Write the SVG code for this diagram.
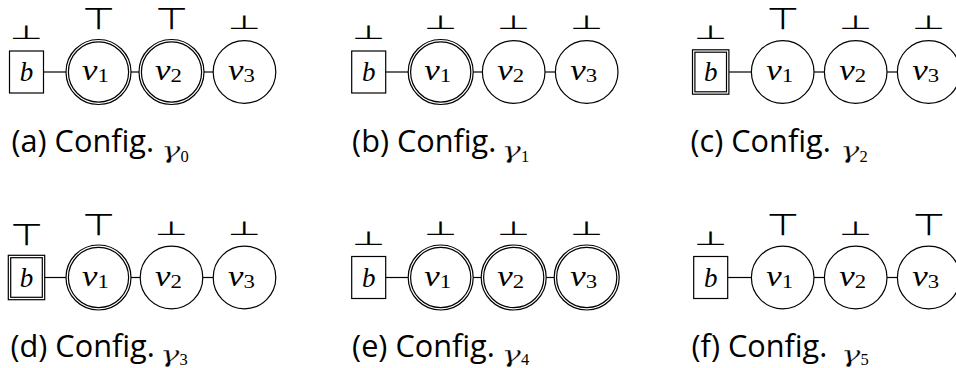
<svg xmlns="http://www.w3.org/2000/svg" width="956" height="368" viewBox="0 0 956 368">
<style>
.ln{stroke:#000;stroke-width:1.2;fill:none}
.nd{fill:#fff;stroke:#000;stroke-width:1.2}
.tk{font-family:"DejaVu Sans",sans-serif;font-size:38px;text-anchor:middle;fill:#000}
.nl{font-family:"Liberation Serif",serif;font-style:italic;font-size:29px;text-anchor:middle;fill:#000}
.bl{font-family:"Liberation Serif",serif;font-style:italic;font-size:27px;text-anchor:middle;fill:#000}
.sub{font-style:normal;font-size:19px}
.cap{font-family:"Open Sans",sans-serif;font-size:30.7px;fill:#000}
.gm{font-family:"DejaVu Serif",serif;font-style:italic;font-size:26px;fill:#000;stroke:#fff;stroke-width:0.35}
.gs{font-family:"Liberation Serif",serif;font-size:16.5px;fill:#000}
</style>
<rect width="956" height="368" fill="#fff"/>

<!-- Panel a -->
<g id="panel-a" transform="translate(9.5,72)">
  <g id="a-edges">
    <line class="ln" x1="34" y1="0" x2="56.5" y2="0"/>
    <line class="ln" x1="121.5" y1="0" x2="129.5" y2="0"/>
    <line class="ln" x1="194.5" y1="0" x2="203.7" y2="0"/>
  </g>
  <g id="a-b">
    <rect class="nd" x="0" y="-21" width="34" height="42"/>
    <text class="bl" x="17" y="9">b</text>
    <text class="tk" transform="translate(17,-33) scale(1,0.51)">⊥</text>
  </g>
  <g id="a-v1">
    <circle class="nd" cx="89" cy="0" r="32.5"/><circle class="nd" cx="89" cy="0" r="30.1"/>
    <text class="nl" transform="translate(86,8) scale(1.2,1)">v<tspan class="sub" dy="2">1</tspan></text>
    <text class="tk" transform="translate(89,-43) scale(1,0.8)">⊤</text>
  </g>
  <g id="a-v2">
    <circle class="nd" cx="162" cy="0" r="32.5"/><circle class="nd" cx="162" cy="0" r="30.1"/>
    <text class="nl" transform="translate(159,8) scale(1.2,1)">v<tspan class="sub" dy="2">2</tspan></text>
    <text class="tk" transform="translate(162,-43) scale(1,0.8)">⊤</text>
  </g>
  <g id="a-v3">
    <circle class="nd" cx="235" cy="0" r="31.3"/>
    <text class="nl" transform="translate(232,8) scale(1.2,1)">v<tspan class="sub" dy="2">3</tspan></text>
    <text class="tk" transform="translate(235,-43) scale(1,0.51)">⊥</text>
  </g>
  <g id="a-caption">
    <text class="cap" x="2" y="80">(a) Config.</text>
    <text class="gm" transform="translate(151.5,86) scale(1.25,0.85)">γ</text>
    <text class="gs" x="171" y="90.3">0</text>
  </g>
</g>

<!-- Panel b -->
<g id="panel-b" transform="translate(351.7,72)">
  <g id="b-edges">
    <line class="ln" x1="34" y1="0" x2="56.5" y2="0"/>
    <line class="ln" x1="121.5" y1="0" x2="130.7" y2="0"/>
    <line class="ln" x1="193.3" y1="0" x2="203.7" y2="0"/>
  </g>
  <g id="b-b">
    <rect class="nd" x="0" y="-21" width="34" height="42"/>
    <text class="bl" x="17" y="9">b</text>
    <text class="tk" transform="translate(17,-33) scale(1,0.51)">⊥</text>
  </g>
  <g id="b-v1">
    <circle class="nd" cx="89" cy="0" r="32.5"/><circle class="nd" cx="89" cy="0" r="30.1"/>
    <text class="nl" transform="translate(86,8) scale(1.2,1)">v<tspan class="sub" dy="2">1</tspan></text>
    <text class="tk" transform="translate(89,-43) scale(1,0.51)">⊥</text>
  </g>
  <g id="b-v2">
    <circle class="nd" cx="162" cy="0" r="31.3"/>
    <text class="nl" transform="translate(159,8) scale(1.2,1)">v<tspan class="sub" dy="2">2</tspan></text>
    <text class="tk" transform="translate(162,-43) scale(1,0.51)">⊥</text>
  </g>
  <g id="b-v3">
    <circle class="nd" cx="235" cy="0" r="31.3"/>
    <text class="nl" transform="translate(232,8) scale(1.2,1)">v<tspan class="sub" dy="2">3</tspan></text>
    <text class="tk" transform="translate(235,-43) scale(1,0.51)">⊥</text>
  </g>
  <g id="b-caption">
    <text class="cap" x="0.4" y="80">(b) Config.</text>
    <text class="gm" transform="translate(149.9,86) scale(1.25,0.85)">γ</text>
    <text class="gs" x="169.4" y="90.3">1</text>
  </g>
</g>

<!-- Panel c -->
<g id="panel-c" transform="translate(693.7,72)">
  <g id="c-edges">
    <line class="ln" x1="35.2" y1="0" x2="57.7" y2="0"/>
    <line class="ln" x1="120.3" y1="0" x2="130.7" y2="0"/>
    <line class="ln" x1="193.3" y1="0" x2="203.7" y2="0"/>
  </g>
  <g id="c-b">
    <rect class="nd" x="-1.2" y="-22.2" width="36.4" height="44.4"/>
    <rect class="nd" x="1.2" y="-19.8" width="31.6" height="39.6"/>
    <text class="bl" x="17" y="9">b</text>
    <text class="tk" transform="translate(17,-33) scale(1,0.51)">⊥</text>
  </g>
  <g id="c-v1">
    <circle class="nd" cx="89" cy="0" r="31.3"/>
    <text class="nl" transform="translate(86,8) scale(1.2,1)">v<tspan class="sub" dy="2">1</tspan></text>
    <text class="tk" transform="translate(89,-43) scale(1,0.8)">⊤</text>
  </g>
  <g id="c-v2">
    <circle class="nd" cx="162" cy="0" r="31.3"/>
    <text class="nl" transform="translate(159,8) scale(1.2,1)">v<tspan class="sub" dy="2">2</tspan></text>
    <text class="tk" transform="translate(162,-43) scale(1,0.51)">⊥</text>
  </g>
  <g id="c-v3">
    <circle class="nd" cx="235" cy="0" r="31.3"/>
    <text class="nl" transform="translate(232,8) scale(1.2,1)">v<tspan class="sub" dy="2">3</tspan></text>
    <text class="tk" transform="translate(235,-43) scale(1,0.51)">⊥</text>
  </g>
  <g id="c-caption">
    <text class="cap" x="-3.2" y="80">(c) Config.</text>
    <text class="gm" transform="translate(146.3,86) scale(1.25,0.85)">γ</text>
    <text class="gs" x="165.8" y="90.3">2</text>
  </g>
</g>

<!-- Panel d -->
<g id="panel-d" transform="translate(9.5,277.5)">
  <g id="d-edges">
    <line class="ln" x1="35.2" y1="0" x2="56.5" y2="0"/>
    <line class="ln" x1="121.5" y1="0" x2="130.7" y2="0"/>
    <line class="ln" x1="193.3" y1="0" x2="203.7" y2="0"/>
  </g>
  <g id="d-b">
    <rect class="nd" x="-1.2" y="-22.2" width="36.4" height="44.4"/>
    <rect class="nd" x="1.2" y="-19.8" width="31.6" height="39.6"/>
    <text class="bl" x="17" y="9">b</text>
    <text class="tk" transform="translate(17,-33) scale(1,0.8)">⊤</text>
  </g>
  <g id="d-v1">
    <circle class="nd" cx="89" cy="0" r="32.5"/><circle class="nd" cx="89" cy="0" r="30.1"/>
    <text class="nl" transform="translate(86,8) scale(1.2,1)">v<tspan class="sub" dy="2">1</tspan></text>
    <text class="tk" transform="translate(89,-43) scale(1,0.8)">⊤</text>
  </g>
  <g id="d-v2">
    <circle class="nd" cx="162" cy="0" r="31.3"/>
    <text class="nl" transform="translate(159,8) scale(1.2,1)">v<tspan class="sub" dy="2">2</tspan></text>
    <text class="tk" transform="translate(162,-43) scale(1,0.51)">⊥</text>
  </g>
  <g id="d-v3">
    <circle class="nd" cx="235" cy="0" r="31.3"/>
    <text class="nl" transform="translate(232,8) scale(1.2,1)">v<tspan class="sub" dy="2">3</tspan></text>
    <text class="tk" transform="translate(235,-43) scale(1,0.51)">⊥</text>
  </g>
  <g id="d-caption">
    <text class="cap" x="1" y="79">(d) Config.</text>
    <text class="gm" transform="translate(150.5,84.5) scale(1.25,0.85)">γ</text>
    <text class="gs" x="170" y="87.3">3</text>
  </g>
</g>

<!-- Panel e -->
<g id="panel-e" transform="translate(351.7,277.5)">
  <g id="e-edges">
    <line class="ln" x1="34" y1="0" x2="56.5" y2="0"/>
    <line class="ln" x1="121.5" y1="0" x2="129.5" y2="0"/>
    <line class="ln" x1="194.5" y1="0" x2="202.5" y2="0"/>
  </g>
  <g id="e-b">
    <rect class="nd" x="0" y="-21" width="34" height="42"/>
    <text class="bl" x="17" y="9">b</text>
    <text class="tk" transform="translate(17,-33) scale(1,0.51)">⊥</text>
  </g>
  <g id="e-v1">
    <circle class="nd" cx="89" cy="0" r="32.5"/><circle class="nd" cx="89" cy="0" r="30.1"/>
    <text class="nl" transform="translate(86,8) scale(1.2,1)">v<tspan class="sub" dy="2">1</tspan></text>
    <text class="tk" transform="translate(89,-43) scale(1,0.51)">⊥</text>
  </g>
  <g id="e-v2">
    <circle class="nd" cx="162" cy="0" r="32.5"/><circle class="nd" cx="162" cy="0" r="30.1"/>
    <text class="nl" transform="translate(159,8) scale(1.2,1)">v<tspan class="sub" dy="2">2</tspan></text>
    <text class="tk" transform="translate(162,-43) scale(1,0.51)">⊥</text>
  </g>
  <g id="e-v3">
    <circle class="nd" cx="235" cy="0" r="32.5"/><circle class="nd" cx="235" cy="0" r="30.1"/>
    <text class="nl" transform="translate(232,8) scale(1.2,1)">v<tspan class="sub" dy="2">3</tspan></text>
    <text class="tk" transform="translate(235,-43) scale(1,0.51)">⊥</text>
  </g>
  <g id="e-caption">
    <text class="cap" x="0.4" y="79">(e) Config.</text>
    <text class="gm" transform="translate(149.9,84.5) scale(1.25,0.85)">γ</text>
    <text class="gs" x="169.4" y="87.3">4</text>
  </g>
</g>

<!-- Panel f -->
<g id="panel-f" transform="translate(693.7,277.5)">
  <g id="f-edges">
    <line class="ln" x1="34" y1="0" x2="57.7" y2="0"/>
    <line class="ln" x1="120.3" y1="0" x2="130.7" y2="0"/>
    <line class="ln" x1="193.3" y1="0" x2="203.7" y2="0"/>
  </g>
  <g id="f-b">
    <rect class="nd" x="0" y="-21" width="34" height="42"/>
    <text class="bl" x="17" y="9">b</text>
    <text class="tk" transform="translate(17,-33) scale(1,0.51)">⊥</text>
  </g>
  <g id="f-v1">
    <circle class="nd" cx="89" cy="0" r="31.3"/>
    <text class="nl" transform="translate(86,8) scale(1.2,1)">v<tspan class="sub" dy="2">1</tspan></text>
    <text class="tk" transform="translate(89,-43) scale(1,0.8)">⊤</text>
  </g>
  <g id="f-v2">
    <circle class="nd" cx="162" cy="0" r="31.3"/>
    <text class="nl" transform="translate(159,8) scale(1.2,1)">v<tspan class="sub" dy="2">2</tspan></text>
    <text class="tk" transform="translate(162,-43) scale(1,0.51)">⊥</text>
  </g>
  <g id="f-v3">
    <circle class="nd" cx="235" cy="0" r="31.3"/>
    <text class="nl" transform="translate(232,8) scale(1.2,1)">v<tspan class="sub" dy="2">3</tspan></text>
    <text class="tk" transform="translate(235,-43) scale(1,0.8)">⊤</text>
  </g>
  <g id="f-caption">
    <text class="cap" x="-2.2" y="79">(f) Config.</text>
    <text class="gm" transform="translate(147.3,84.5) scale(1.25,0.85)">γ</text>
    <text class="gs" x="166.8" y="87.3">5</text>
  </g>
</g>
</svg>
